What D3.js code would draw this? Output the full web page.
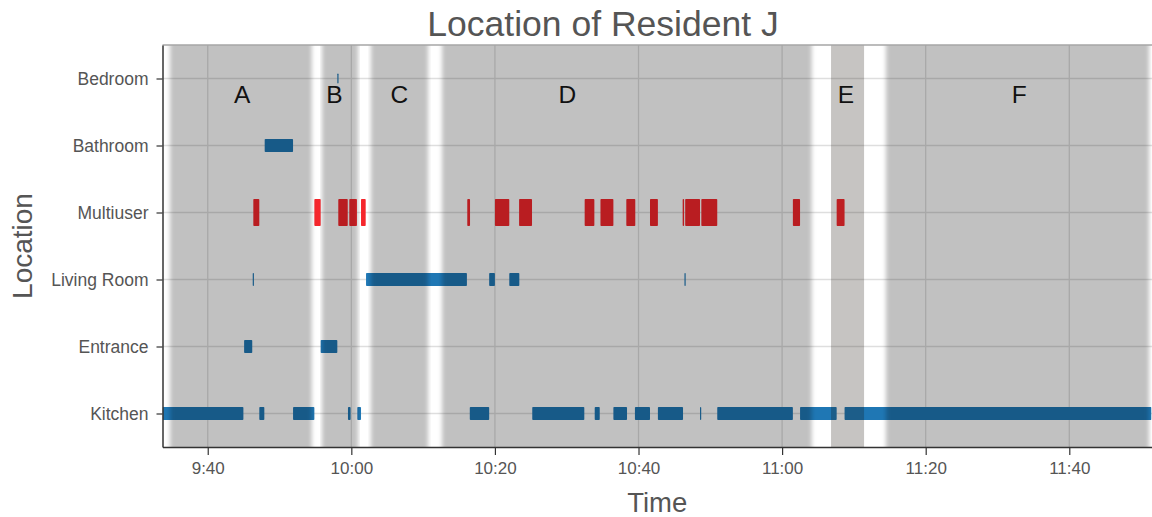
<!DOCTYPE html>
<html>
<head>
<meta charset="utf-8">
<script src="https://cdn.jsdelivr.net/npm/d3@7"></script>
<style>
  html, body { margin: 0; padding: 0; background: #fff; }
  svg { display: block; font-family: "Liberation Sans", Arial, sans-serif; }
</style>
</head>
<body>
<svg id="chart" width="1152" height="517"></svg>
<script>
// ---------------- data ----------------
const locations = ["Kitchen", "Entrance", "Living Room", "Multiuser", "Bathroom", "Bedroom"];
const timeDomain = ["09:33:42", "11:51:27"];
const tickTimes = ["09:40:00", "10:00:00", "10:20:00", "10:40:00", "11:00:00", "11:20:00", "11:40:00"];

const kitchen = [
  ["09:33:42", "09:44:58"], ["09:47:11", "09:47:53"], ["09:51:53", "09:54:51"],
  ["09:59:32", "09:59:54"], ["10:00:50", "10:01:21"], ["10:16:30", "10:19:12"],
  ["10:25:12", "10:32:27"], ["10:33:54", "10:34:36"], ["10:36:30", "10:38:24"],
  ["10:39:30", "10:41:36"], ["10:42:42", "10:46:12"], ["10:48:34", "10:48:42"],
  ["10:50:58", "11:01:30"], ["11:02:30", "11:07:36"], ["11:08:42", "11:51:27"]
];
const entrance = [["09:45:04", "09:46:12"], ["09:55:44", "09:58:03"]];
const livingRoom = [
  ["09:46:16", "09:46:22"], ["10:02:03", "10:16:06"], ["10:19:12", "10:20:00"],
  ["10:22:00", "10:23:24"], ["10:46:24", "10:46:30"]
];
const multiuser = [
  ["09:46:21", "09:47:11"], ["09:54:51", "09:55:44"], ["09:58:11", "09:59:30"],
  ["09:59:43", "10:00:47"], ["10:01:21", "10:02:00"], ["10:16:09", "10:16:32"],
  ["10:20:00", "10:22:00"], ["10:23:22", "10:25:10"], ["10:32:30", "10:33:51"],
  ["10:34:42", "10:36:30"], ["10:38:18", "10:39:33"], ["10:41:36", "10:42:42"],
  ["10:46:09", "10:46:21"], ["10:46:30", "10:48:34"], ["10:48:45", "10:50:58"],
  ["11:01:30", "11:02:30"], ["11:07:36", "11:08:42"]
];
const bathroom = [["09:47:56", "09:51:53"]];
const bedroom = [["09:58:03", "09:58:09"]];

const periodNames = ["A", "B", "C", "D", "E", "F"];
const periodStarts = ["09:34:45", "09:55:55", "10:02:44", "10:12:38", "11:06:49", "11:14:28"];
const periodEnds   = ["09:54:29", "10:00:56", "10:10:41", "11:04:07", "11:11:25", "11:51:06"];
const periodLabelTimes = ["09:44:47", "09:57:38", "10:06:41", "10:30:05", "11:08:54", "11:33:02"];
const periodSoft = [true, true, true, true, false, true];

const titleText = "Location of Resident J";
const xTitle = "Time";
const yTitle = "Location";

// ---------------- chart ----------------
const parse = d3.timeParse("%H:%M:%S");
const svg = d3.select("#chart");
const margin = { left: 162.5, right: 0.5, top: 45, bottom: 70 };
const W = 1152, H = 517;

const x = d3.scaleTime()
  .domain(timeDomain.map(parse))
  .range([margin.left, W - margin.right]);
const y = d3.scalePoint()
  .domain(locations)
  .range([H - margin.bottom, margin.top])
  .padding(0.5);

const defs = svg.append("defs");
defs.append("filter").attr("id", "soft")
  .attr("x", "-5%").attr("y", "0%").attr("width", "110%").attr("height", "100%")
  .append("feGaussianBlur").attr("stdDeviation", "2.2 0");
defs.append("clipPath").attr("id", "plotclip").append("rect")
  .attr("x", margin.left).attr("y", margin.top)
  .attr("width", W - margin.right - margin.left)
  .attr("height", H - margin.bottom - margin.top);

const plotTop = margin.top, plotBottom = H - margin.bottom;

// grid
const grid = svg.append("g");
grid.selectAll("line.v").data(tickTimes.map(parse)).join("line")
  .attr("x1", d => x(d)).attr("x2", d => x(d))
  .attr("y1", plotTop).attr("y2", plotBottom)
  .attr("stroke", "#dedede").attr("stroke-width", 1.3);
grid.selectAll("line.h").data(locations).join("line")
  .attr("x1", margin.left).attr("x2", W)
  .attr("y1", d => y(d)).attr("y2", d => y(d))
  .attr("stroke", "#dedede").attr("stroke-width", 1.3);

// bars
const series = [
  { loc: "Kitchen", data: kitchen, color: "#1f77b4", h: 13 },
  { loc: "Entrance", data: entrance, color: "#1f77b4", h: 13 },
  { loc: "Living Room", data: livingRoom, color: "#1f77b4", h: 13 },
  { loc: "Multiuser", data: multiuser, color: "#f5262c", h: 27 },
  { loc: "Bathroom", data: bathroom, color: "#1f77b4", h: 13 },
  { loc: "Bedroom", data: bedroom, color: "#1f77b4", h: 10 }
];
const barsG = svg.append("g").attr("clip-path", "url(#plotclip)");
series.forEach(s => {
  barsG.append("g").selectAll("rect").data(s.data).join("rect")
    .attr("x", d => x(parse(d[0])))
    .attr("width", d => Math.max(1.2, x(parse(d[1])) - x(parse(d[0]))))
    .attr("y", y(s.loc) - s.h / 2)
    .attr("height", s.h)
    .attr("rx", 0.8)
    .attr("fill", s.color);
});

// shaded periods (overlay)
const periods = periodNames.map((n, i) => ({
  name: n, start: parse(periodStarts[i]), end: parse(periodEnds[i]),
  label: parse(periodLabelTimes[i]), soft: periodSoft[i]
}));
const bandG = svg.append("g").attr("clip-path", "url(#plotclip)");
bandG.selectAll("rect").data(periods).join("rect")
  .attr("x", d => x(d.start))
  .attr("width", d => x(d.end) - x(d.start))
  .attr("y", plotTop)
  .attr("height", plotBottom - plotTop)
  .attr("fill", "rgb(20,12,6)")
  .attr("fill-opacity", 0.245)
  .attr("filter", d => d.soft ? "url(#soft)" : null);

// period labels
svg.append("g").selectAll("text").data(periods).join("text")
  .attr("x", d => x(d.label))
  .attr("y", 103)
  .attr("text-anchor", "middle")
  .attr("font-size", 24.5)
  .attr("fill", "#111")
  .text(d => d.name);

// frame top line
svg.append("line")
  .attr("x1", margin.left).attr("x2", W)
  .attr("y1", plotTop).attr("y2", plotTop)
  .attr("stroke", "#a6a6a6").attr("stroke-width", 1.5);

// axes
const xAxis = d3.axisBottom(x)
  .tickValues(tickTimes.map(parse))
  .tickFormat(d3.timeFormat("%-H:%M"))
  .tickSize(8).tickPadding(7).tickSizeOuter(0);
const gx = svg.append("g").attr("transform", `translate(0,${plotBottom})`).call(xAxis);
gx.select(".domain").attr("stroke", "#333").attr("stroke-width", 1.5);
gx.selectAll(".tick line").attr("stroke", "#333").attr("stroke-width", 1.2);
gx.selectAll(".tick text").attr("font-size", 17).attr("fill", "#555")
  .attr("font-family", "Liberation Sans, Arial, sans-serif");

const yAxis = d3.axisLeft(y).tickSize(6).tickPadding(8).tickSizeOuter(0);
const gy = svg.append("g").attr("transform", `translate(${margin.left},0)`).call(yAxis);
gy.select(".domain").attr("stroke", "#333").attr("stroke-width", 1.5);
gy.selectAll(".tick line").attr("stroke", "#333").attr("stroke-width", 1.2);
gy.selectAll(".tick text").attr("font-size", 17.5).attr("fill", "#555")
  .attr("font-family", "Liberation Sans, Arial, sans-serif");

// titles
svg.append("text")
  .attr("x", 603).attr("y", 36)
  .attr("text-anchor", "middle")
  .attr("font-size", 35.5)
  .attr("fill", "#555")
  .text(titleText);
svg.append("text")
  .attr("x", (margin.left + W) / 2).attr("y", 512)
  .attr("text-anchor", "middle")
  .attr("font-size", 27.5)
  .attr("fill", "#555")
  .text(xTitle);
svg.append("text")
  .attr("transform", `translate(32,${(plotTop + plotBottom) / 2}) rotate(-90)`)
  .attr("text-anchor", "middle")
  .attr("font-size", 28)
  .attr("fill", "#555")
  .text(yTitle);
</script>
</body>
</html>
